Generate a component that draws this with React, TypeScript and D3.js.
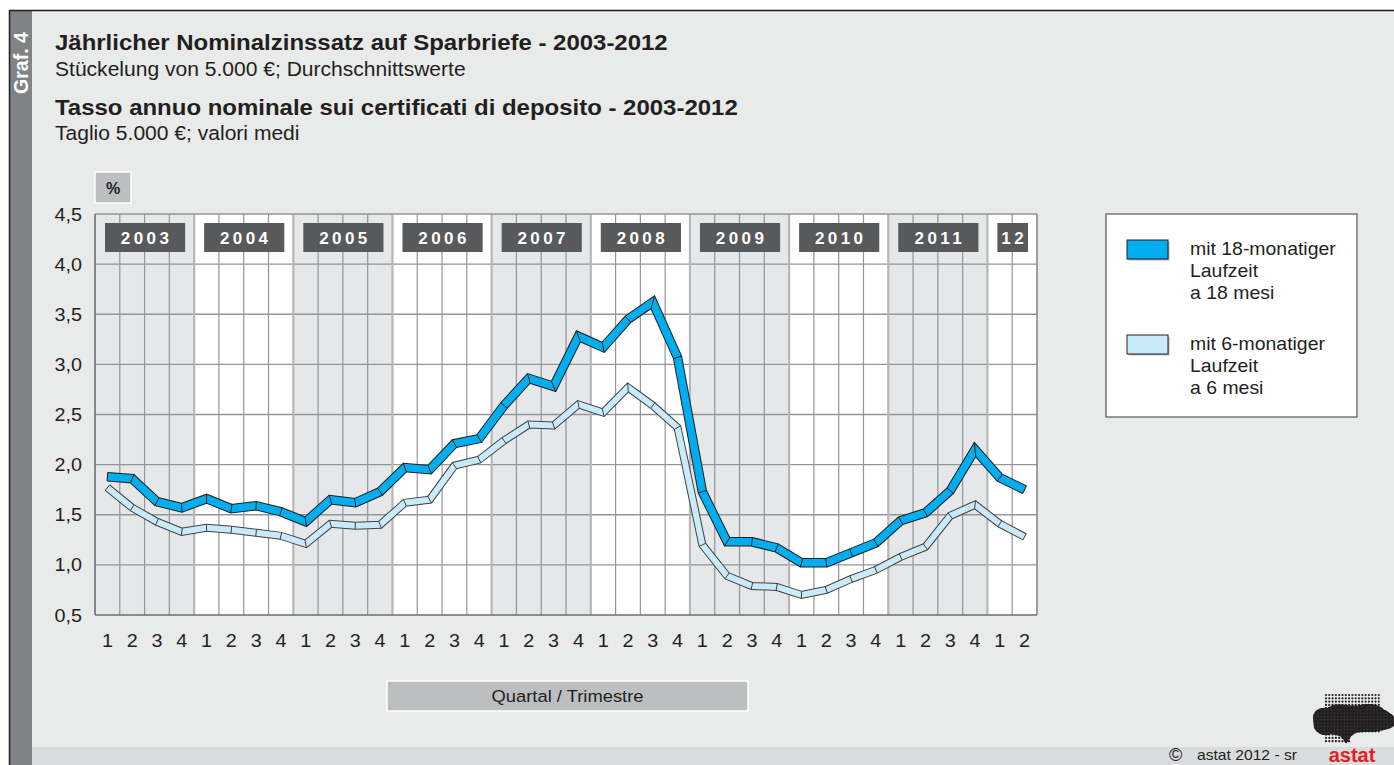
import React from 'react';
import * as d3 from 'd3';

const years = ['2003', '2004', '2005', '2006', '2007', '2008', '2009', '2010', '2011', '12'];
const quartersPerYear = [4, 4, 4, 4, 4, 4, 4, 4, 4, 2];
const quarterLabels = [
  '1', '2', '3', '4', '1', '2', '3', '4', '1', '2', '3', '4', '1', '2', '3', '4',
  '1', '2', '3', '4', '1', '2', '3', '4', '1', '2', '3', '4', '1', '2', '3', '4',
  '1', '2', '3', '4', '1', '2',
];
const yTicks = [0.5, 1.0, 1.5, 2.0, 2.5, 3.0, 3.5, 4.0, 4.5];
const yTickLabels = ['0,5', '1,0', '1,5', '2,0', '2,5', '3,0', '3,5', '4,0', '4,5'];

const rate18 = [
  1.88, 1.86, 1.63, 1.57,
  1.66, 1.56, 1.59, 1.53,
  1.43, 1.65, 1.62, 1.73,
  1.97, 1.95, 2.21, 2.26,
  2.59, 2.86, 2.78, 3.28,
  3.17, 3.45, 3.62, 3.07,
  1.73, 1.23, 1.23, 1.17,
  1.02, 1.02, 1.12, 1.22,
  1.44, 1.52, 1.74, 2.15,
  1.87, 1.75,
];
const rate6 = [
  1.77, 1.57, 1.43, 1.33,
  1.37, 1.35, 1.32, 1.29,
  1.21, 1.41, 1.39, 1.40,
  1.62, 1.65, 1.99, 2.05,
  2.24, 2.40, 2.39, 2.60,
  2.52, 2.77, 2.59, 2.37,
  1.20, 0.89, 0.79, 0.78,
  0.70, 0.75, 0.86, 0.95,
  1.08, 1.18, 1.49, 1.60,
  1.41, 1.28,
];

const legendItems = [
  { lines: ['mit 18-monatiger', 'Laufzeit', 'a 18 mesi'], color: '#00aeef' },
  { lines: ['mit 6-monatiger', 'Laufzeit', 'a 6 mesi'], color: '#c8eaf9' },
];

const W = 1394;
const H = 765;
const FONT = '"Liberation Sans", Arial, Helvetica, sans-serif';
const SX = 1.08;

const T: React.FC<any> = ({ x, y, size, weight, anchor, fill, children, ls }) => (
  <text
    transform={`translate(${x},${y}) scale(${SX},1)`}
    fontFamily={FONT}
    fontSize={size}
    fontWeight={weight || 'normal'}
    textAnchor={anchor || 'start'}
    fill={fill || '#231f20'}
    letterSpacing={ls || 0}
  >
    {children}
  </text>
);

function Ribbon({ pts, fill, stroke, w }: { pts: [number, number][]; fill: string; stroke: string; w: number }) {
  const d = d3.line()(pts) || '';
  const hw = w / 2 + 0.5;
  const seps: any[] = [];
  for (let i = 0; i < pts.length; i++) {
    const p = pts[i];
    let mx: number, my: number, L: number;
    if (i === 0 || i === pts.length - 1) {
      const a = i === 0 ? pts[0] : pts[i - 1];
      const b = i === 0 ? pts[1] : pts[i];
      const dx = b[0] - a[0], dy = b[1] - a[1];
      const len = Math.hypot(dx, dy);
      mx = -dy / len; my = dx / len; L = hw;
    } else {
      const a = pts[i - 1], b = pts[i + 1];
      const d1x = p[0] - a[0], d1y = p[1] - a[1];
      const l1 = Math.hypot(d1x, d1y);
      const d2x = b[0] - p[0], d2y = b[1] - p[1];
      const l2 = Math.hypot(d2x, d2y);
      const n1x = -d1y / l1, n1y = d1x / l1;
      const n2x = -d2y / l2, n2y = d2x / l2;
      let sx = n1x + n2x, sy = n1y + n2y;
      const sl = Math.hypot(sx, sy);
      sx /= sl; sy /= sl;
      mx = sx; my = sy;
      L = hw / (sx * n1x + sy * n1y);
    }
    seps.push(
      <line key={i} x1={p[0] - mx * L} y1={p[1] - my * L} x2={p[0] + mx * L} y2={p[1] + my * L}
        stroke={stroke} strokeWidth={1} />
    );
  }
  return (
    <g>
      <path d={d} fill="none" stroke={stroke} strokeWidth={w + 2} strokeLinejoin="miter" strokeMiterlimit={20} />
      <path d={d} fill="none" stroke={fill} strokeWidth={w} strokeLinejoin="miter" strokeMiterlimit={20} />
      {seps}
    </g>
  );
}

function Logo() {
  const dots: any[] = [];
  const step = 3.3;
  let k = 0;
  const blob = 'M1313,718 C1313,711 1319,707 1327,708 L1333,705 C1342,703 1352,707 1360,705 C1368,703 1375,704 1381,707 C1385,711 1392,713 1394,717 L1394,726 C1390,729 1385,730 1379,731 C1371,733 1362,731 1356,733 C1352,735 1350,737 1349,740 L1346,744 L1343,739 C1340,735 1336,735 1331,734 C1325,737 1317,734 1314,728 Z';
  for (let yy = 695; yy <= 744; yy += step) {
    for (let xx = 1326; xx <= 1380; xx += step) {
      let inside = true;
      if (yy > 733 && xx > 1352) inside = false;
      if (inside) dots.push(<circle key={k++} cx={xx} cy={yy} r={1.1} fill="#231f20" />);
    }
  }
  const bigDots: any[] = [];
  for (let yy = 695; yy <= 744; yy += step) {
    for (let xx = 1313; xx <= 1394; xx += step) {
      bigDots.push(<circle key={k++} cx={xx} cy={yy} r={1.75} fill="#231f20" />);
    }
  }
  return (
    <g>
      <defs>
        <clipPath id="blobclip"><path d={blob} /></clipPath>
      </defs>
      {dots}
      <g clipPath="url(#blobclip)">
        <path d={blob} fill="#3a3839" />
        {bigDots}
      </g>
      <text x={1352} y={762} textAnchor="middle" fontFamily={FONT} fontSize={20} fontWeight="bold" fill="#e31e24">astat</text>
    </g>
  );
}

export default function App() {
  const nQ = quarterLabels.length;
  const x = d3.scaleLinear().domain([0, nQ]).range([95, 1037]);
  const y = d3.scaleLinear().domain([0.5, 4.5]).range([615, 214]);

  const yearStarts: number[] = [];
  let acc = 0;
  quartersPerYear.forEach((q) => { yearStarts.push(acc); acc += q; });

  const pts18 = rate18.map((v, i) => [x(i + 0.5), y(v)] as [number, number]);
  const pts6 = rate6.map((v, i) => [x(i + 0.5), y(v)] as [number, number]);

  const plotTop = y(4.5), plotBottom = y(0.5), plotLeft = x(0), plotRight = x(nQ);

  return (
    <svg width={W} height={H} viewBox={`0 0 ${W} ${H}`} style={{ position: 'absolute', left: 0, top: 0, display: 'block' }}>
      <rect x={0} y={0} width={W} height={H} fill="#ffffff" />
      <rect x={9.5} y={10.5} width={W} height={H} fill="#e9eaea" />
      <rect x={32} y={747} width={W} height={20} fill="#dadbdc" />
      <rect x={10} y={11} width={22} height={H} fill="#808285" />
      <line x1={9.5} y1={10.5} x2={W} y2={10.5} stroke="#231f20" strokeWidth={1.5} />
      <line x1={9.5} y1={10} x2={9.5} y2={H} stroke="#231f20" strokeWidth={1.5} />
      <text transform="translate(28,63) rotate(-90)" textAnchor="middle" fontFamily={FONT} fontSize={19.5} fontWeight="bold" fill="#ffffff">Graf. 4</text>

      <T x={55} y={50} size={22.2} weight="bold">Jährlicher Nominalzinssatz auf Sparbriefe - 2003-2012</T>
      <T x={55} y={76} size={19.5}>Stückelung von 5.000 €; Durchschnittswerte</T>
      <T x={55} y={115} size={22.2} weight="bold">Tasso annuo nominale sui certificati di deposito - 2003-2012</T>
      <T x={55} y={140} size={19.5}>Taglio 5.000 €; valori medi</T>

      {years.map((yr, i) => (
        <rect key={yr} x={x(yearStarts[i])} y={plotTop} width={x(yearStarts[i] + quartersPerYear[i]) - x(yearStarts[i])}
          height={plotBottom - plotTop} fill={i % 2 === 0 ? '#e6e7e8' : '#ffffff'} />
      ))}
      {yTicks.slice(1, -1).map((t) => (
        <line key={t} x1={plotLeft} x2={plotRight} y1={y(t)} y2={y(t)} stroke="#939598" strokeWidth={1.3} />
      ))}
      {d3.range(1, nQ).map((i) => {
        const isYear = yearStarts.includes(i);
        return (
          <line key={i} x1={x(i)} x2={x(i)} y1={plotTop} y2={plotBottom}
            stroke={isYear ? '#b5b7b9' : '#939598'} strokeWidth={isYear ? 2.2 : 1.2} />
        );
      })}
      <line x1={plotLeft} x2={plotRight} y1={plotTop} y2={plotTop} stroke="#939598" strokeWidth={1.5} />
      <line x1={plotRight} x2={plotRight} y1={plotTop} y2={plotBottom} stroke="#808285" strokeWidth={1.5} />
      <line x1={plotLeft} x2={plotRight} y1={plotBottom} y2={plotBottom} stroke="#6d6e71" strokeWidth={1.6} />
      <line x1={plotLeft} x2={plotLeft} y1={plotTop} y2={plotBottom} stroke="#6d6e71" strokeWidth={1.6} />

      {years.map((yr, i) => {
        const x0 = x(yearStarts[i]) + 10;
        const x1 = x(yearStarts[i] + quartersPerYear[i]) - 9;
        return (
          <g key={yr}>
            <rect x={x0} y={223} width={x1 - x0} height={29} fill="#58595b" />
            <text x={(x0 + x1) / 2 + 1.5} y={244} textAnchor="middle" fontFamily={FONT} fontSize={17}
              fontWeight="bold" fill="#ffffff" letterSpacing={3.4}>{yr}</text>
          </g>
        );
      })}

      <Ribbon pts={pts6} fill="#c8eaf9" stroke="#414042" w={6} />
      <Ribbon pts={pts18} fill="#00aeef" stroke="#231f20" w={7.5} />

      {yTicks.map((t, i) => (
        <T key={t} x={82} y={y(t) + 6.5} size={18.3} anchor="end">{yTickLabels[i]}</T>
      ))}
      {quarterLabels.map((q, i) => (
        <T key={i} x={x(i + 0.5)} y={646.5} size={18.3} anchor="middle">{q}</T>
      ))}

      <rect x={95} y={172} width={36} height={31} fill="#bcbec0" stroke="#ffffff" strokeWidth={1.5} />
      <text x={113} y={194} textAnchor="middle" fontFamily={FONT} fontSize={16} fontWeight="bold" fill="#231f20">%</text>

      <rect x={387} y={681} width={361} height={30} fill="#bcbec0" stroke="#ffffff" strokeWidth={1.5} />
      <T x={567.5} y={702} size={17} anchor="middle">Quartal / Trimestre</T>

      <rect x={1106} y={214} width={251} height={203} fill="#ffffff" stroke="#58595b" strokeWidth={1.2} />
      {legendItems.map((it, i) => {
        const top = 240 + i * 95;
        return (
          <g key={i}>
            <rect x={1128.5} y={top + 1.5} width={41} height={19} fill="#808285" opacity={0.6} />
            <rect x={1127} y={top} width={41} height={19} fill={it.color} stroke="#231f20" strokeWidth={1} />
            {it.lines.map((ln, j) => (
              <T key={j} x={1190} y={top + 15 + j * 22} size={18}>{ln}</T>
            ))}
          </g>
        );
      })}

      <text x={1169} y={761} fontFamily={FONT} fontSize={18} fill="#231f20">©</text>
      <T x={1197} y={760} size={14.5}>astat 2012 - sr</T>
      <Logo />
    </svg>
  );
}
